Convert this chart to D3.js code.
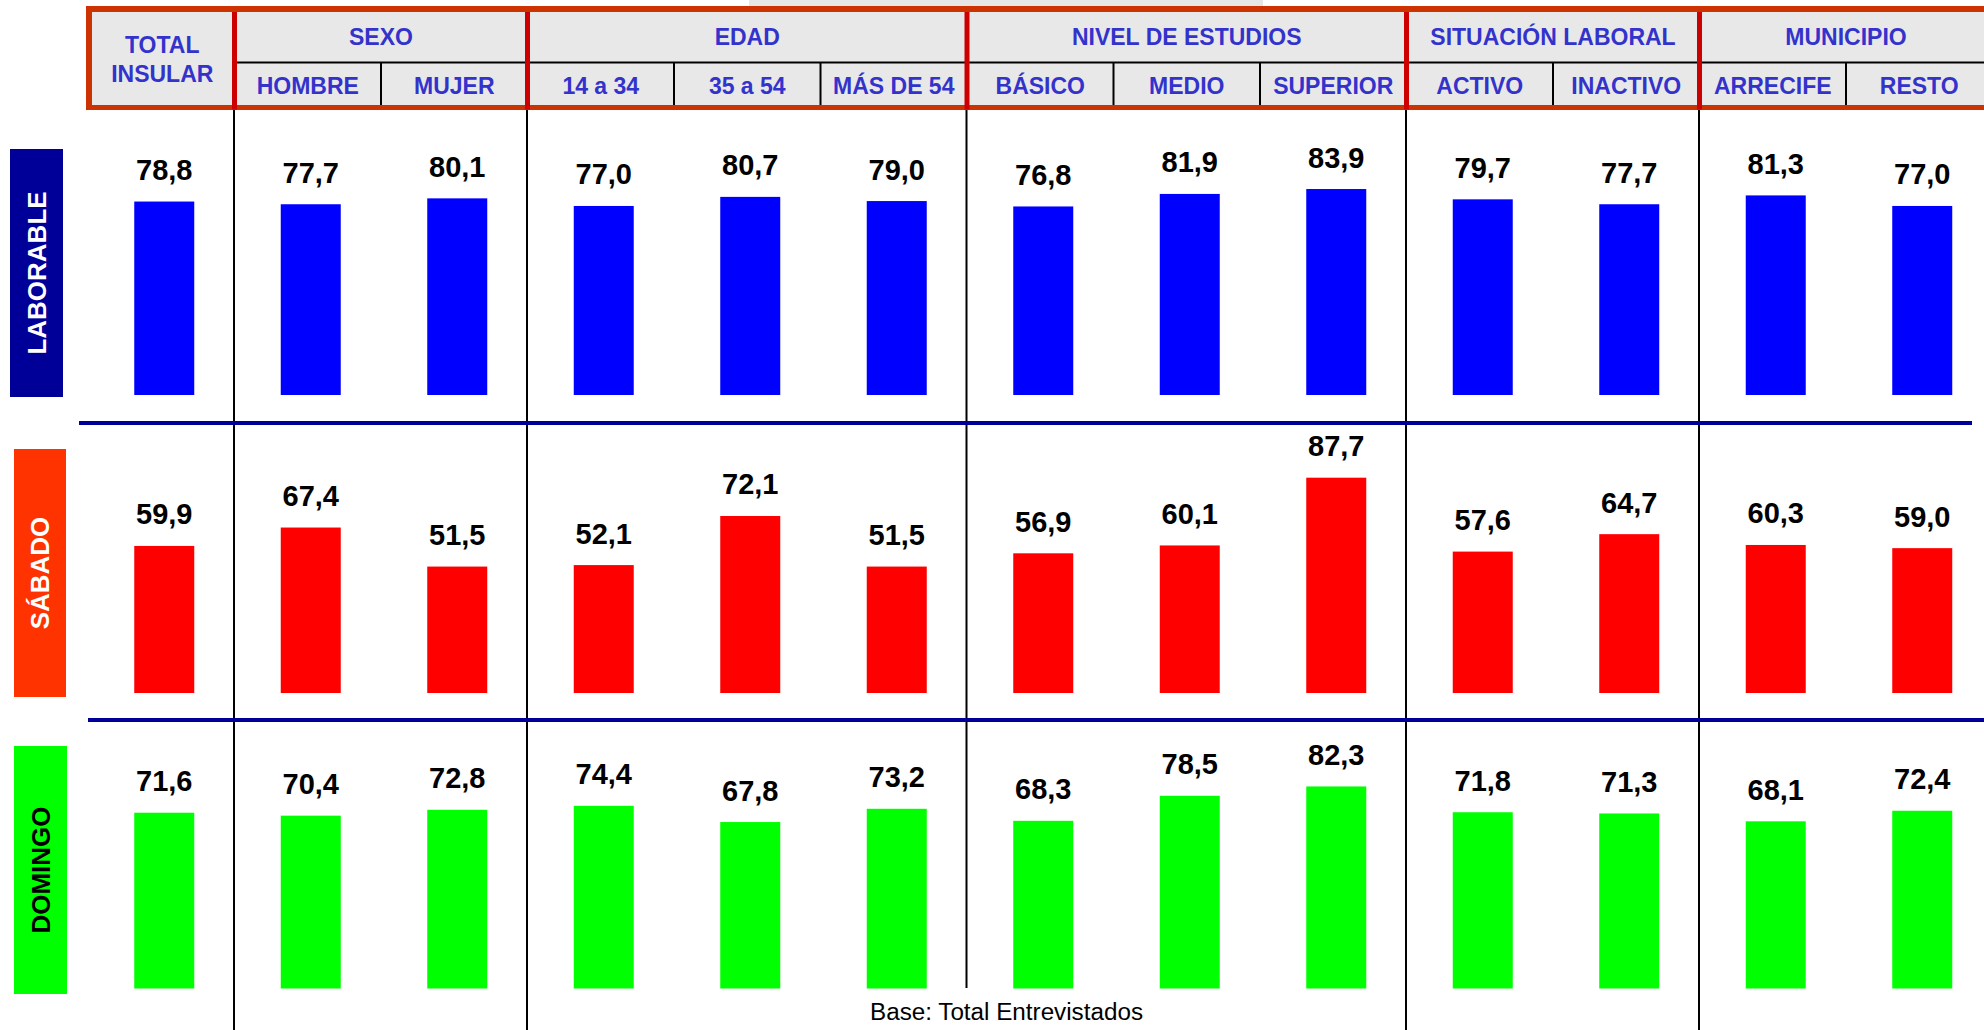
<!DOCTYPE html>
<html>
<head>
<meta charset="utf-8">
<script src="https://cdn.jsdelivr.net/npm/d3@7"></script>
<style>
  html, body { margin: 0; padding: 0; background: #ffffff; }
  svg { display: block; }
  text { font-family: "Liberation Sans", Arial, sans-serif; }
</style>
</head>
<body>
<svg id="chart" width="1984" height="1030"></svg>
<script>
// ---------------- DATA ----------------
const categories = ["TOTAL INSULAR", "HOMBRE", "MUJER", "14 a 34", "35 a 54", "MÁS DE 54",
                    "BÁSICO", "MEDIO", "SUPERIOR", "ACTIVO", "INACTIVO", "ARRECIFE", "RESTO"];
const groupNames = ["SEXO", "EDAD", "NIVEL DE ESTUDIOS", "SITUACIÓN LABORAL", "MUNICIPIO"];
const groupSizes = [2, 3, 3, 2, 2];
const totalLabel = ["TOTAL", "INSULAR"];
const dayLabels = ["LABORABLE", "SÁBADO", "DOMINGO"];
const laborable = [78.8, 77.7, 80.1, 77.0, 80.7, 79.0, 76.8, 81.9, 83.9, 79.7, 77.7, 81.3, 77.0];
const sabado    = [59.9, 67.4, 51.5, 52.1, 72.1, 51.5, 56.9, 60.1, 87.7, 57.6, 64.7, 60.3, 59.0];
const domingo   = [71.6, 70.4, 72.8, 74.4, 67.8, 73.2, 68.3, 78.5, 82.3, 71.8, 71.3, 68.1, 72.4];
const footnote = "Base: Total Entrevistados";

// ---------------- LAYOUT ----------------
const svg = d3.select("#chart");
const colStep = 146.5;
const x0 = 88;
const x = d3.scaleBand().domain(categories).range([x0, x0 + colStep * categories.length]).padding(0);
const h = d3.scaleLinear().domain([0, 100]).range([0, 245.5]);
const barW = 60, barShift = 3;
const fmt = v => d3.format(".1f")(v).replace(".", ",");

const rows = [
  { name: dayLabels[0], values: laborable, base: 395,   bar: "#0000ff", box: "#000099", txt: "#ffffff", bx: 10, bw: 53, by: 149, bh: 248 },
  { name: dayLabels[1], values: sabado,    base: 693,   bar: "#ff0000", box: "#ff3300", txt: "#ffffff", bx: 14, bw: 52, by: 449, bh: 248 },
  { name: dayLabels[2], values: domingo,   base: 988.5, bar: "#00ff00", box: "#00ff00", txt: "#000000", bx: 14, bw: 53, by: 746, bh: 248 }
];

// group boundaries
let groupBounds = [];
let idx = 1;
groupSizes.forEach((s, i) => { groupBounds.push({ name: groupNames[i], start: idx, end: idx + s }); idx += s; });
const bx = i => x0 + colStep * i; // boundary x of column i

// ---------------- HEADER ----------------
// small gray strip at very top
svg.append("rect").attr("x", 749).attr("y", 0).attr("width", 514).attr("height", 6).attr("fill", "#e6e6e6");

const headTop = 9, headBot = 107.5, headMid = 62.5;
svg.append("rect").attr("x", 89).attr("y", headTop).attr("width", 2000).attr("height", headBot - headTop)
  .attr("fill", "#e8e8e8");

// mid horizontal line
svg.append("line").attr("x1", bx(1)).attr("x2", 1990).attr("y1", headMid).attr("y2", headMid)
  .attr("stroke", "#000").attr("stroke-width", 2);

// black sub dividers
groupBounds.forEach(g => {
  for (let i = g.start + 1; i < g.end; i++) {
    svg.append("line").attr("x1", bx(i)).attr("x2", bx(i)).attr("y1", headMid).attr("y2", headBot)
      .attr("stroke", "#000").attr("stroke-width", 2);
  }
});
// outer border
svg.append("line").attr("x1", 86).attr("x2", 1990).attr("y1", headTop).attr("y2", headTop).attr("stroke", "#cc3300").attr("stroke-width", 6);
svg.append("line").attr("x1", 86).attr("x2", 1990).attr("y1", headBot).attr("y2", headBot).attr("stroke", "#cc3300").attr("stroke-width", 5);
svg.append("line").attr("x1", 89).attr("x2", 89).attr("y1", headTop).attr("y2", headBot).attr("stroke", "#cc3300").attr("stroke-width", 6);

// red group dividers
groupBounds.forEach(g => {
  svg.append("line").attr("x1", bx(g.start)).attr("x2", bx(g.start)).attr("y1", headTop + 3).attr("y2", headBot + 2)
    .attr("stroke", "#cc0000").attr("stroke-width", 5);
});

const headColor = "#3333cc";
// TOTAL INSULAR
const tc = x(categories[0]) + x.bandwidth() / 2 + 1;
svg.selectAll("text.total").data(totalLabel).enter().append("text")
  .attr("x", tc).attr("y", (d, i) => 53 + i * 29)
  .attr("text-anchor", "middle").attr("font-size", 23).attr("font-weight", "bold").attr("fill", headColor)
  .text(d => d);

// group titles
svg.selectAll("text.group").data(groupBounds).enter().append("text")
  .attr("x", g => (bx(g.start) + bx(g.end)) / 2).attr("y", 45)
  .attr("text-anchor", "middle").attr("font-size", 23).attr("font-weight", "bold").attr("fill", headColor)
  .text(g => g.name);

// sub labels
svg.selectAll("text.sub").data(categories.slice(1)).enter().append("text")
  .attr("x", d => x(d) + x.bandwidth() / 2).attr("y", 94)
  .attr("text-anchor", "middle").attr("font-size", 23).attr("font-weight", "bold").attr("fill", headColor)
  .text(d => d);

// ---------------- BODY ----------------
// vertical black lines at group boundaries
groupBounds.forEach((g, i) => {
  svg.append("line").attr("x1", bx(g.start) - 0.5).attr("x2", bx(g.start) - 0.5)
    .attr("y1", 110).attr("y2", i === 2 ? 988 : 1030)
    .attr("stroke", "#000").attr("stroke-width", 2);
});

// horizontal separators
svg.append("line").attr("x1", 79).attr("x2", 1972).attr("y1", 423).attr("y2", 423).attr("stroke", "#000099").attr("stroke-width", 4);
svg.append("line").attr("x1", 88).attr("x2", 1984).attr("y1", 720).attr("y2", 720).attr("stroke", "#000099").attr("stroke-width", 4);

rows.forEach(r => {
  const gRow = svg.append("g");
  // row label box
  gRow.append("rect").attr("x", r.bx).attr("y", r.by).attr("width", r.bw).attr("height", r.bh).attr("fill", r.box);
  const cx = r.bx + r.bw / 2, cy = r.by + r.bh / 2;
  gRow.append("text")
    .attr("transform", `translate(${cx + 9},${cy}) rotate(-90)`)
    .attr("text-anchor", "middle").attr("font-size", 26).attr("font-weight", "bold").attr("fill", r.txt)
    .text(r.name);

  const data = categories.map((c, i) => ({ c, v: r.values[i] }));
  gRow.selectAll("rect.bar").data(data).enter().append("rect")
    .attr("x", d => x(d.c) + (x.bandwidth() - barW) / 2 + barShift)
    .attr("y", d => r.base - h(d.v))
    .attr("width", barW)
    .attr("height", d => h(d.v))
    .attr("fill", r.bar);
  gRow.selectAll("text.val").data(data).enter().append("text")
    .attr("x", d => x(d.c) + x.bandwidth() / 2 + barShift)
    .attr("y", d => r.base - h(d.v) - 21.5)
    .attr("text-anchor", "middle").attr("font-size", 29).attr("font-weight", "bold").attr("fill", "#000")
    .text(d => fmt(d.v));
});

// footnote
svg.append("text").attr("x", 870).attr("y", 1020).attr("font-size", 23)
  .attr("textLength", 273).attr("lengthAdjust", "spacingAndGlyphs").attr("fill", "#000")
  .text(footnote);
</script>
</body>
</html>
